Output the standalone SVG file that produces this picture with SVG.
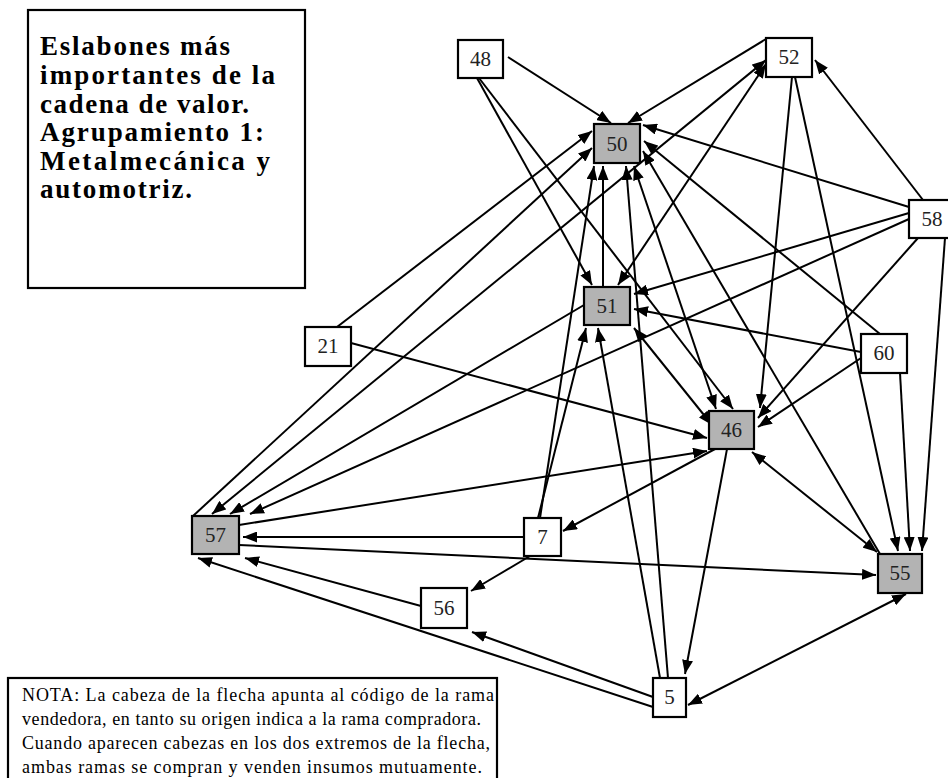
<svg xmlns="http://www.w3.org/2000/svg" width="948" height="778" viewBox="0 0 948 778">
<style>
.bx{fill:#fff;stroke:#000;stroke-width:2.2}
.g{fill:#b3b3b3}
.lb{font-family:"Liberation Serif","Times New Roman",serif;font-size:21px;text-anchor:middle;fill:#222}
.e{stroke:#000;stroke-width:2;fill:none;marker-end:url(#ah)}
.b{stroke:#000;stroke-width:2;fill:none;marker-end:url(#ah);marker-start:url(#ah)}
.t{font-family:"Liberation Serif","Times New Roman",serif;font-size:27px;font-weight:bold;fill:#000}
.n{font-family:"Liberation Serif","Times New Roman",serif;font-size:18px;fill:#000}
</style>
<defs>
<marker id="ah" viewBox="0 0 14 11" refX="14" refY="5.5" markerWidth="14" markerHeight="11" markerUnits="userSpaceOnUse" orient="auto-start-reverse"><path d="M0,0L14,5.5L0,11z" fill="#000"/></marker>
</defs>
<rect width="948" height="778" fill="#fff"/>
<g id="title">
<rect class="bx" x="28" y="10" width="277" height="278"/>
<text class="t" x="40" y="55" textLength="190" lengthAdjust="spacing">Eslabones más</text>
<text class="t" x="40" y="84" textLength="235" lengthAdjust="spacing">importantes de la</text>
<text class="t" x="40" y="113" textLength="209" lengthAdjust="spacing">cadena de valor.</text>
<text class="t" x="40" y="141" textLength="224" lengthAdjust="spacing">Agrupamiento 1:</text>
<text class="t" x="40" y="170" textLength="230" lengthAdjust="spacing">Metalmecánica y</text>
<text class="t" x="40" y="198" textLength="152" lengthAdjust="spacing">automotriz.</text>
</g>
<g id="note">
<rect class="bx" x="8" y="678" width="489" height="110"/>
<text class="n" x="22" y="701" textLength="472" lengthAdjust="spacing">NOTA: La cabeza de la flecha apunta al código de la rama</text>
<text class="n" x="22" y="725" textLength="459" lengthAdjust="spacing">vendedora, en tanto su origen indica a la rama compradora.</text>
<text class="n" x="22" y="749" textLength="468" lengthAdjust="spacing">Cuando aparecen cabezas en los dos extremos de la flecha,</text>
<text class="n" x="22" y="773" textLength="460" lengthAdjust="spacing">ambas ramas se compran y venden insumos mutuamente.</text>
</g>
<g id="connectors">
<line class="e" x1="508" y1="57" x2="611" y2="123"/>
<line class="e" x1="477" y1="78" x2="592" y2="285"/>
<line class="e" x1="479" y1="78" x2="733" y2="409"/>
<line class="e" x1="766" y1="39" x2="628" y2="123"/>
<line class="b" x1="766" y1="60" x2="212" y2="514"/>
<line class="b" x1="766" y1="64" x2="618" y2="285"/>
<line class="e" x1="923" y1="200" x2="815" y2="60"/>
<line class="e" x1="792" y1="77" x2="760" y2="408"/>
<line class="e" x1="795" y1="77" x2="898" y2="551"/>
<line class="e" x1="909" y1="207" x2="643" y2="125"/>
<line class="e" x1="880" y1="334" x2="644" y2="141"/>
<line class="e" x1="880" y1="554" x2="643" y2="151"/>
<line class="e" x1="337" y1="327" x2="592" y2="131"/>
<line class="e" x1="193" y1="516" x2="592" y2="148"/>
<line class="e" x1="540" y1="518" x2="594" y2="166"/>
<line class="e" x1="603" y1="287" x2="603" y2="166"/>
<line class="e" x1="668" y1="678" x2="626" y2="166"/>
<line class="b" x1="634" y1="166" x2="716" y2="409"/>
<line class="e" x1="909" y1="213" x2="634" y2="294"/>
<line class="e" x1="861" y1="352" x2="634" y2="309"/>
<line class="b" x1="634" y1="328" x2="712" y2="425"/>
<line class="e" x1="538" y1="518" x2="586" y2="328"/>
<line class="e" x1="660" y1="678" x2="598" y2="328"/>
<line class="e" x1="584" y1="305" x2="230" y2="514"/>
<line class="e" x1="918" y1="238" x2="758" y2="418"/>
<line class="e" x1="861" y1="358" x2="758" y2="427"/>
<line class="e" x1="909" y1="219" x2="250" y2="514"/>
<line class="e" x1="945" y1="238" x2="922" y2="551"/>
<line class="e" x1="900" y1="373" x2="910" y2="551"/>
<line class="e" x1="351" y1="343" x2="707" y2="438"/>
<line class="e" x1="239" y1="525" x2="707" y2="451"/>
<line class="e" x1="715" y1="449" x2="563" y2="531"/>
<line class="e" x1="727" y1="449" x2="685" y2="674"/>
<line class="b" x1="752" y1="452" x2="877" y2="552"/>
<line class="e" x1="524" y1="537" x2="243" y2="537"/>
<line class="e" x1="239" y1="545" x2="876" y2="575"/>
<line class="e" x1="530" y1="556" x2="471" y2="591"/>
<line class="e" x1="421" y1="606" x2="245" y2="558"/>
<line class="e" x1="653" y1="707" x2="198" y2="558"/>
<line class="e" x1="653" y1="697" x2="472" y2="632"/>
<line class="b" x1="688" y1="705" x2="906" y2="594"/>
</g>
<g id="n48"><rect class="bx" x="458" y="40" width="45" height="38"/><text class="lb" x="480.5" y="66">48</text></g>
<g id="n52"><rect class="bx" x="766" y="38" width="46" height="39"/><text class="lb" x="789" y="64">52</text></g>
<g id="n50"><rect class="bx g" x="594" y="124" width="46" height="39"/><text class="lb" x="617" y="151">50</text></g>
<g id="n58"><rect class="bx" x="909" y="200" width="46" height="38"/><text class="lb" x="932" y="226">58</text></g>
<g id="n51"><rect class="bx g" x="584" y="287" width="46" height="38"/><text class="lb" x="607" y="313">51</text></g>
<g id="n21"><rect class="bx" x="305" y="327" width="46" height="39"/><text class="lb" x="328" y="353">21</text></g>
<g id="n60"><rect class="bx" x="861" y="334" width="46" height="39"/><text class="lb" x="884" y="360">60</text></g>
<g id="n46"><rect class="bx g" x="709" y="411" width="45" height="38"/><text class="lb" x="731.5" y="437">46</text></g>
<g id="n57"><rect class="bx g" x="192" y="516" width="47" height="38"/><text class="lb" x="215.5" y="542">57</text></g>
<g id="n7"><rect class="bx" x="524" y="518" width="37" height="38"/><text class="lb" x="542.5" y="544">7</text></g>
<g id="n56"><rect class="bx" x="421" y="588" width="46" height="40"/><text class="lb" x="444" y="615">56</text></g>
<g id="n55"><rect class="bx g" x="878" y="554" width="44" height="39"/><text class="lb" x="900" y="580">55</text></g>
<g id="n5"><rect class="bx" x="653" y="678" width="33" height="39"/><text class="lb" x="669.5" y="704">5</text></g>
</svg>
